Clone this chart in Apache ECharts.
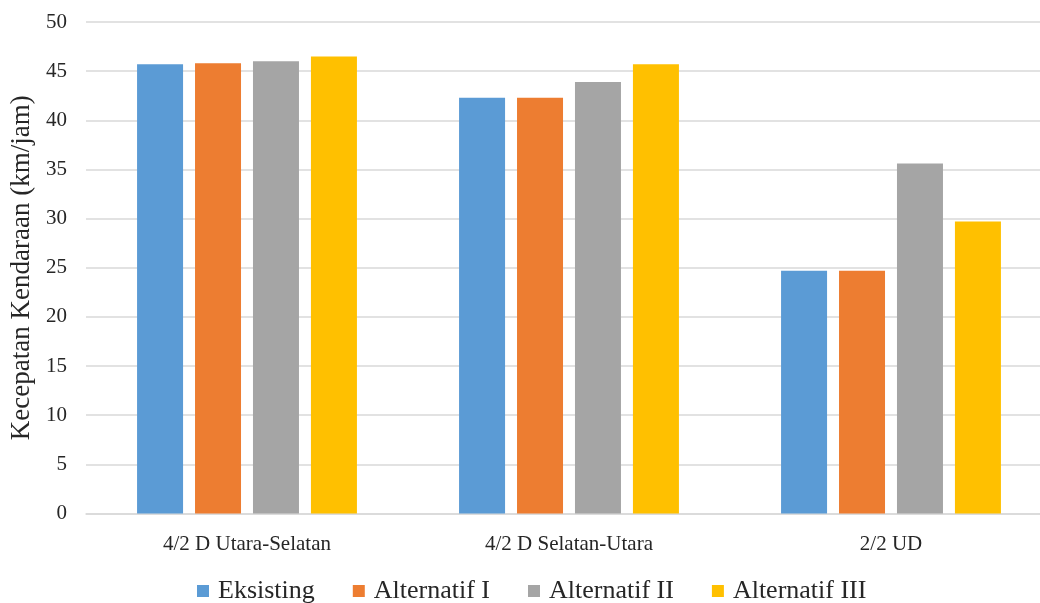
<!DOCTYPE html>
<html>
<head>
<meta charset="utf-8">
<script src="https://cdn.jsdelivr.net/npm/echarts@6/dist/echarts.min.js"></script>
<style>
  html, body { margin: 0; padding: 0; background: #ffffff; }
  #chart { width: 1040px; height: 603px; }
</style>
</head>
<body>
<div id="chart"></div>
<script>
// Road segments (x-axis categories)
const categories = ['4/2 D Utara-Selatan', '4/2 D Selatan-Utara', '2/2 UD'];

// Vehicle speed per scenario (km/jam)
const eksisting     = [45.7, 42.3, 24.7];
const alternatifI   = [45.8, 42.3, 24.7];
const alternatifII  = [46.0, 43.9, 35.6];
const alternatifIII = [46.5, 45.7, 29.7];

const seriesNames = ['Eksisting', 'Alternatif I', 'Alternatif II', 'Alternatif III'];
const seriesData = [eksisting, alternatifI, alternatifII, alternatifIII];
const seriesColors = ['#5B9BD5', '#ED7D31', '#A5A5A5', '#FFC000'];

const FONT = '"Liberation Serif", "Times New Roman", serif';
const TEXT_COLOR = '#262626';

const chart = echarts.init(document.getElementById('chart'), null, { renderer: 'canvas' });

chart.setOption({
  animation: false,
  backgroundColor: '#ffffff',
  textStyle: { fontFamily: FONT, color: TEXT_COLOR },
  // plot area runs slightly past the right edge of the canvas
  grid: { left: 86, top: 22, width: 966, height: 491.5, containLabel: false, outerBoundsMode: 'none' },
  legend: {
    data: seriesNames,
    left: 192,
    top: 573,
    itemWidth: 12,
    itemHeight: 12,
    itemGap: 38,
    icon: 'rect',
    textStyle: { fontFamily: FONT, fontSize: 26, color: TEXT_COLOR, padding: [0, 0, 0, 4] }
  },
  xAxis: {
    type: 'category',
    data: categories,
    axisLine: { show: true, lineStyle: { color: '#d9d9d9', width: 1.5 } },
    axisTick: { show: false },
    axisLabel: { fontFamily: FONT, fontSize: 21, color: TEXT_COLOR, margin: 20 }
  },
  yAxis: {
    type: 'value',
    min: 0,
    max: 50,
    interval: 5,
    name: 'Kecepatan Kendaraan (km/jam)',
    nameLocation: 'middle',
    nameGap: 51,
    nameTextStyle: { fontFamily: FONT, fontSize: 27, color: TEXT_COLOR },
    axisLine: { show: false },
    axisTick: { show: false },
    splitLine: { lineStyle: { color: '#d9d9d9', width: 1.5 } },
    axisLabel: { fontFamily: FONT, fontSize: 21, color: TEXT_COLOR, margin: 19 }
  },
  series: seriesNames.map((name, i) => ({
    name: name,
    type: 'bar',
    data: seriesData[i],
    barWidth: 46,
    barGap: '26%',
    itemStyle: { color: seriesColors[i] }
  }))
});
</script>
</body>
</html>
